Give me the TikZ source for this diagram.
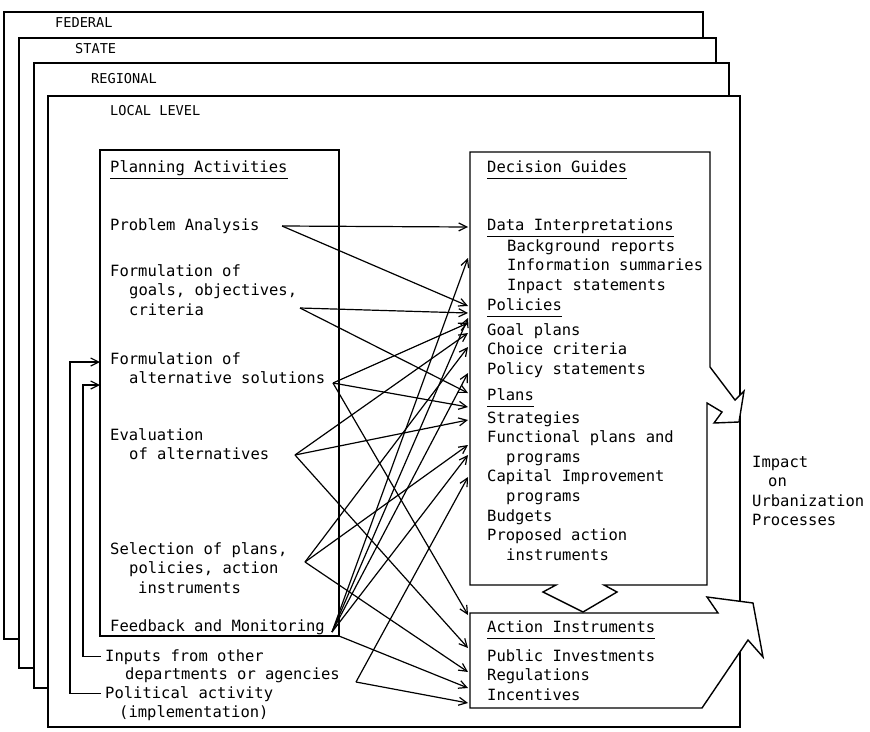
\documentclass[tikz,border=0pt]{standalone}
\usepackage{fontspec}
\newfontfamily\gothic{DejaVu Sans Mono}
\usetikzlibrary{arrows.meta}

\begin{document}
\begin{tikzpicture}[x=1pt, y=-1pt,
        txt/.style={anchor=base west, inner sep=0pt, align=left,
            font=\gothic\fontsize{15.5}{19.6}\selectfont},
        hdr/.style={txt, text depth=6.5pt},
        lvl/.style={anchor=base west, inner sep=0pt, font=\gothic\fontsize{13.6}{16}\selectfont},
        levelbox/.style={draw, fill=white, line width=1.4pt},
        box/.style={draw, fill=white, line width=1.4pt},
        link/.style={line width=1.2pt, -{Straight Barb[length=8pt,width=8pt]}}
    ]
        \useasboundingbox (0,0) rectangle (870,731);
        \fill[white] (0,0) rectangle (870,731);

        % government levels, back to front
        \draw[levelbox] (4,12) rectangle (703,639);
        \draw[levelbox] (19,38) rectangle (716,668);
        \draw[levelbox] (34,63) rectangle (729,688);
        \draw[levelbox] (48,96) rectangle (740,727);
        \node[lvl] (fed) at (55,27) {FEDERAL};
        \node[lvl] (sta) at (75,53) {STATE};
        \node[lvl] (reg) at (91,83) {REGIONAL};
        \node[lvl] (loc) at (110,115) {LOCAL LEVEL};

        % planning activities (multi-line nodes sit on their last line)
        \draw[box] (100,150) rectangle (339,636);
        \node[hdr] (pact) at (110,172) {Planning Activities};
        \node[txt] (prob) at (110,230) {Problem Analysis};
        \node[txt] (goal) at (110,315.2) {Formulation of\\\hspace*{19pt}goals, objectives,\\\hspace*{19pt}criteria};
        \node[txt] (alt) at (110,383.6) {Formulation of\\\hspace*{19pt}alternative solutions};
        \node[txt] (eval) at (110,459.6) {Evaluation\\\hspace*{19pt}of alternatives};
        \node[txt] (sel) at (110,593.2) {Selection of plans,\\\hspace*{19pt}policies, action\\\hspace*{28pt}instruments};
        \node[txt] (fbm) at (110,631) {Feedback and Monitoring};
        \node[txt] (inp) at (105,661) {Inputs from other};
        \node[txt] (inpb) at (125,679) {departments or agencies};
        \node[txt] (polact) at (105,698) {Political activity};
        \node[txt] (polactb) at (119,717) {(implementation)};

        % action instruments with impact arrow
        \draw[box] (470,613) -- (718,613) -- (707,597) -- (753,603) -- (763,657)
            -- (748,640) -- (702,708) -- (470,708) -- cycle;
        % decision guides with arrows out
        \draw[box] (470,152) -- (710,152) -- (710,367) -- (735,400) -- (744,391)
            -- (739,422) -- (714,423) -- (722,412) -- (707,403) -- (707,585)
            -- (604,585) -- (617,592) -- (583,612) -- (543,592) -- (556,585)
            -- (470,585) -- cycle;

        \node[hdr] (dguide) at (487,172) {Decision Guides};
        \node[hdr] (dint) at (487,230) {Data Interpretations};
        \node[txt] (dintl) at (507,290.2) {Background reports\\Information summaries\\Inpact statements};
        \node[hdr] (pol) at (487,310) {Policies};
        \node[txt] (poll) at (487,374.2) {Goal plans\\Choice criteria\\Policy statements};
        \node[hdr] (plan) at (487,400) {Plans};
        \node[txt] (planl) at (487,560.2) {Strategies\\Functional plans and\\\hspace*{19pt}programs\\Capital Improvement\\\hspace*{19pt}programs\\Budgets\\Proposed action\\\hspace*{19pt}instruments};
        \node[hdr] (act) at (487,632) {Action Instruments};
        \node[txt] (actl) at (487,700.2) {Public Investments\\Regulations\\Incentives};
        \node[txt] (imp) at (752,525.8) {Impact\\\hspace*{16pt}on\\Urbanization\\Processes};

        \foreach \h in {pact,dguide,dint,pol,plan,act}
            \draw[line width=1.2pt] (\h.south west) -- (\h.south east);

        % inputs fed back into the planning process
        \coordinate (inA) at (100,362);
        \coordinate (inB) at (100,385);
        \draw[link] ([xshift=-4pt]polact.west) -| (70,362) -- (inA);
        \draw[link] ([xshift=-4pt]inp.west) -| (83,385) -- (inB);

        % activities to guides and instruments
        \coordinate (sprob) at (282,226);
        \coordinate (sgoal) at (300,308);
        \coordinate (salt) at (333,383);
        \coordinate (seval) at (295,455);
        \coordinate (ssel) at (305,562);
        \coordinate (sfbm) at (332,632);
        \coordinate (scor) at (339,636);
        \coordinate (sinp) at (356,682);
        \coordinate (dgl) at (468,0);
        \foreach \s/\t in {sprob/227, sprob/306, sgoal/313, sgoal/393, salt/323, salt/407,
                salt/615, seval/333, seval/420, seval/648, ssel/347, ssel/445, ssel/672,
                sfbm/258, sfbm/318, sfbm/373, sfbm/455, scor/688, sinp/477, sinp/703}
            \draw[link] (\s) -- (dgl |- 0,\t);
    \end{tikzpicture}
\end{document}
